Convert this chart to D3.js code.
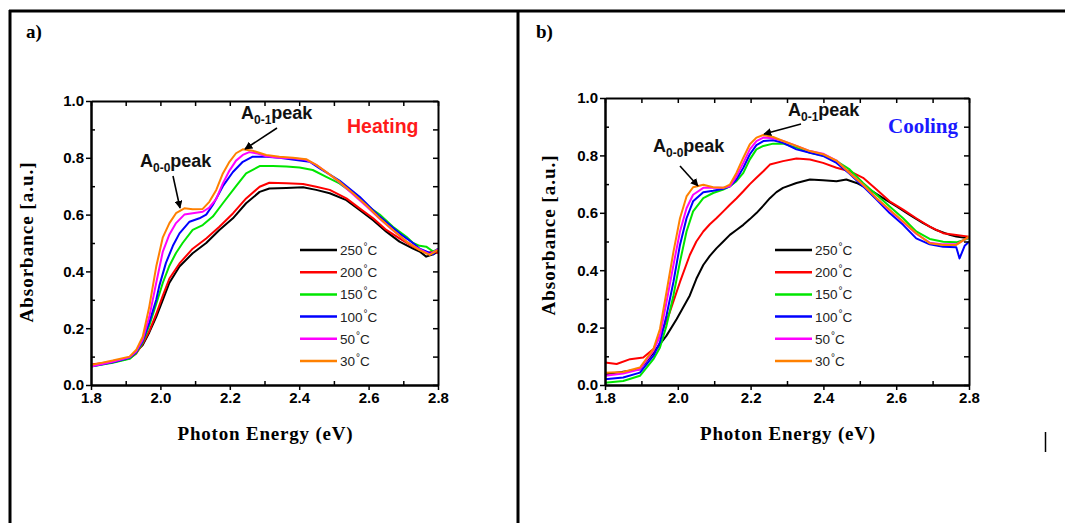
<!DOCTYPE html>
<html>
<head>
<meta charset="utf-8">
<script src="https://cdn.jsdelivr.net/npm/d3@7"></script>
<style>
  html, body { margin: 0; padding: 0; background: #fff; }
  svg { display: block; }
</style>
</head>
<body>
<svg id="chart" width="1065" height="523"></svg>
<script>
// ---------------- DATA ----------------
const energyTicks = [1.8, 2.0, 2.2, 2.4, 2.6, 2.8];
const energyMinor = [1.9, 2.1, 2.3, 2.5, 2.7];
const absTicks = [0.0, 0.2, 0.4, 0.6, 0.8, 1.0];
const absMinor = [0.1, 0.3, 0.5, 0.7, 0.9];
const seriesLabels = ["250", "200", "150", "100", "50", "30"];
const seriesColors = ["#000000", "#ff0000", "#00e600", "#0000ff", "#ff00ff", "#ff8000"];

// Panel a) Heating
const heat250 = [[1.8,0.07],[1.8625,0.08],[1.911,0.094],[1.949,0.141],[1.968,0.185],[1.988,0.24],[2.007,0.3],[2.026,0.36],[2.055,0.417],[2.093,0.464],[2.132,0.5],[2.170,0.546],[2.209,0.587],[2.247,0.64],[2.286,0.68],[2.314,0.692],[2.363,0.694],[2.411,0.696],[2.449,0.687],[2.488,0.675],[2.536,0.651],[2.574,0.616],[2.613,0.58],[2.651,0.54],[2.689,0.505],[2.728,0.48],[2.747,0.47],[2.766,0.452],[2.786,0.46],[2.8,0.47]];
const heat200 = [[1.8,0.072],[1.8625,0.082],[1.911,0.094],[1.930,0.11],[1.949,0.145],[1.968,0.19],[1.988,0.25],[2.007,0.315],[2.026,0.375],[2.055,0.428],[2.093,0.48],[2.132,0.516],[2.170,0.557],[2.209,0.604],[2.247,0.657],[2.286,0.698],[2.314,0.712],[2.363,0.71],[2.411,0.708],[2.449,0.698],[2.488,0.687],[2.536,0.657],[2.574,0.622],[2.613,0.587],[2.651,0.546],[2.689,0.516],[2.728,0.487],[2.766,0.464],[2.786,0.47],[2.8,0.465]];
const heat150 = [[1.8,0.065],[1.8625,0.078],[1.911,0.092],[1.930,0.112],[1.949,0.15],[1.968,0.21],[1.988,0.285],[2.007,0.36],[2.026,0.42],[2.045,0.465],[2.064,0.5],[2.093,0.546],[2.122,0.563],[2.151,0.593],[2.180,0.64],[2.218,0.70],[2.247,0.745],[2.286,0.771],[2.324,0.771],[2.363,0.769],[2.401,0.766],[2.439,0.757],[2.478,0.733],[2.516,0.71],[2.555,0.675],[2.593,0.634],[2.632,0.60],[2.670,0.557],[2.709,0.522],[2.728,0.50],[2.747,0.49],[2.766,0.487],[2.786,0.47],[2.8,0.478]];
const heat100 = [[1.8,0.065],[1.8625,0.08],[1.911,0.096],[1.930,0.115],[1.949,0.155],[1.968,0.22],[1.988,0.30],[1.997,0.35],[2.016,0.43],[2.036,0.49],[2.055,0.534],[2.084,0.575],[2.1125,0.587],[2.132,0.60],[2.151,0.634],[2.180,0.70],[2.209,0.75],[2.2375,0.786],[2.266,0.804],[2.305,0.804],[2.343,0.80],[2.391,0.792],[2.430,0.786],[2.459,0.763],[2.516,0.72],[2.574,0.663],[2.632,0.593],[2.689,0.534],[2.728,0.50],[2.747,0.48],[2.766,0.47],[2.786,0.46],[2.8,0.48]];
const heat50 = [[1.8,0.065],[1.8625,0.082],[1.911,0.098],[1.930,0.118],[1.949,0.16],[1.968,0.24],[1.988,0.36],[2.007,0.47],[2.026,0.53],[2.045,0.57],[2.069,0.60],[2.093,0.605],[2.122,0.61],[2.141,0.625],[2.161,0.655],[2.180,0.71],[2.199,0.755],[2.218,0.79],[2.2375,0.81],[2.256,0.82],[2.280,0.815],[2.305,0.805],[2.343,0.80],[2.382,0.798],[2.420,0.793],[2.449,0.775],[2.478,0.75],[2.516,0.714],[2.555,0.672],[2.593,0.63],[2.632,0.585],[2.670,0.545],[2.709,0.505],[2.747,0.478],[2.776,0.46],[2.8,0.478]];
const heat30 = [[1.8,0.07],[1.8625,0.086],[1.911,0.10],[1.930,0.123],[1.949,0.17],[1.968,0.276],[1.988,0.417],[2.007,0.52],[2.026,0.57],[2.045,0.605],[2.069,0.622],[2.093,0.619],[2.122,0.62],[2.141,0.645],[2.161,0.687],[2.180,0.745],[2.199,0.786],[2.218,0.816],[2.2375,0.83],[2.266,0.825],[2.305,0.81],[2.343,0.804],[2.382,0.80],[2.420,0.795],[2.449,0.775],[2.478,0.75],[2.516,0.716],[2.555,0.675],[2.593,0.634],[2.632,0.587],[2.670,0.546],[2.709,0.505],[2.747,0.475],[2.776,0.458],[2.8,0.475]];

// Panel b) Cooling
const cool250 = [[1.8,0.037],[1.896,0.055],[1.933,0.113],[1.969,0.172],[1.997,0.23],[2.033,0.312],[2.051,0.37],[2.070,0.418],[2.088,0.45],[2.106,0.476],[2.125,0.50],[2.143,0.523],[2.161,0.54],[2.180,0.558],[2.198,0.578],[2.216,0.599],[2.235,0.625],[2.253,0.651],[2.271,0.672],[2.289,0.687],[2.326,0.704],[2.363,0.716],[2.399,0.713],[2.436,0.71],[2.463,0.716],[2.491,0.704],[2.527,0.681],[2.564,0.651],[2.601,0.622],[2.637,0.593],[2.674,0.564],[2.710,0.54],[2.747,0.523],[2.765,0.517],[2.8,0.511]];
const cool200 = [[1.8,0.078],[1.832,0.073],[1.869,0.09],[1.905,0.096],[1.933,0.125],[1.956,0.184],[1.978,0.254],[2.006,0.359],[2.033,0.453],[2.051,0.50],[2.070,0.535],[2.088,0.56],[2.106,0.581],[2.125,0.605],[2.143,0.628],[2.161,0.65],[2.180,0.675],[2.198,0.70],[2.216,0.722],[2.235,0.745],[2.253,0.768],[2.289,0.78],[2.326,0.789],[2.363,0.786],[2.399,0.774],[2.436,0.757],[2.472,0.745],[2.509,0.722],[2.546,0.681],[2.582,0.64],[2.619,0.611],[2.655,0.581],[2.692,0.552],[2.729,0.529],[2.765,0.523],[2.8,0.517]];
const cool150 = [[1.8,0.008],[1.850,0.014],[1.896,0.032],[1.933,0.09],[1.951,0.131],[1.969,0.207],[1.988,0.312],[2.006,0.429],[2.024,0.535],[2.042,0.605],[2.070,0.651],[2.097,0.669],[2.125,0.681],[2.143,0.692],[2.161,0.71],[2.180,0.739],[2.198,0.786],[2.216,0.821],[2.235,0.833],[2.262,0.841],[2.289,0.841],[2.326,0.827],[2.363,0.809],[2.399,0.80],[2.436,0.78],[2.472,0.751],[2.509,0.704],[2.546,0.663],[2.582,0.622],[2.619,0.581],[2.655,0.535],[2.692,0.509],[2.729,0.499],[2.765,0.497],[2.8,0.511]];
const cool100 = [[1.8,0.02],[1.850,0.026],[1.896,0.043],[1.933,0.102],[1.951,0.149],[1.969,0.242],[1.988,0.359],[2.006,0.488],[2.024,0.581],[2.042,0.64],[2.070,0.672],[2.097,0.677],[2.125,0.684],[2.143,0.692],[2.161,0.716],[2.180,0.757],[2.198,0.804],[2.216,0.836],[2.235,0.85],[2.262,0.853],[2.289,0.844],[2.326,0.821],[2.363,0.809],[2.399,0.798],[2.436,0.774],[2.472,0.736],[2.509,0.692],[2.546,0.646],[2.582,0.599],[2.619,0.558],[2.655,0.511],[2.692,0.49],[2.729,0.482],[2.765,0.48],[2.774,0.441],[2.788,0.485],[2.8,0.499]];
const cool50 = [[1.8,0.032],[1.850,0.04],[1.896,0.055],[1.933,0.119],[1.951,0.172],[1.969,0.289],[1.988,0.418],[2.006,0.535],[2.024,0.616],[2.042,0.663],[2.070,0.687],[2.097,0.687],[2.125,0.687],[2.143,0.692],[2.161,0.727],[2.180,0.774],[2.198,0.821],[2.216,0.85],[2.235,0.862],[2.262,0.86],[2.289,0.85],[2.326,0.833],[2.363,0.815],[2.399,0.806],[2.436,0.782],[2.472,0.739],[2.509,0.698],[2.546,0.651],[2.582,0.608],[2.619,0.568],[2.655,0.527],[2.692,0.496],[2.729,0.49],[2.765,0.49],[2.8,0.515]];
const cool30 = [[1.8,0.043],[1.850,0.045],[1.896,0.061],[1.933,0.125],[1.951,0.195],[1.969,0.324],[1.988,0.464],[2.006,0.581],[2.024,0.657],[2.042,0.689],[2.070,0.698],[2.097,0.689],[2.125,0.687],[2.143,0.698],[2.161,0.739],[2.180,0.792],[2.198,0.839],[2.216,0.862],[2.235,0.871],[2.262,0.864],[2.289,0.85],[2.326,0.833],[2.363,0.815],[2.399,0.804],[2.436,0.782],[2.472,0.739],[2.509,0.698],[2.546,0.651],[2.582,0.611],[2.619,0.57],[2.655,0.529],[2.692,0.494],[2.729,0.488],[2.765,0.488],[2.8,0.517]];

const heatingSeries = [heat250, heat200, heat150, heat100, heat50, heat30];
const coolingSeries = [cool250, cool200, cool150, cool100, cool50, cool30];

// ---------------- DRAW ----------------
const svg = d3.select("#chart");
const ARIAL = "'Liberation Sans', Arial, sans-serif";
const TIMES = "'Liberation Serif', 'Times New Roman', serif";

const defs = svg.append("defs");
defs.append("marker")
  .attr("id", "arrowhead")
  .attr("viewBox", "0 0 10 10")
  .attr("refX", 9).attr("refY", 5)
  .attr("markerWidth", 8).attr("markerHeight", 8)
  .attr("markerUnits", "userSpaceOnUse")
  .attr("orient", "auto")
  .append("path").attr("d", "M0,0 L10,5 L0,10 z").attr("fill", "#000");

// outer frame
const frame = svg.append("g").attr("stroke", "#000").attr("stroke-width", 3);
frame.append("line").attr("x1", 9).attr("x2", 1065).attr("y1", 11).attr("y2", 11);
frame.append("line").attr("x1", 10).attr("x2", 10).attr("y1", 10).attr("y2", 523);
frame.append("line").attr("x1", 518).attr("x2", 518).attr("y1", 10).attr("y2", 523);
svg.append("line").attr("x1", 1045.5).attr("x2", 1045.5).attr("y1", 432).attr("y2", 452)
  .attr("stroke", "#000").attr("stroke-width", 1.5);

function drawPanel(cfg) {
  const x = d3.scaleLinear().domain([1.8, 2.8]).range([cfg.left, cfg.right]);
  const y = d3.scaleLinear().domain([0, 1]).range([cfg.bottom, cfg.top]);
  const g = svg.append("g");

  // panel letter
  g.append("text").attr("x", cfg.letterX).attr("y", 38)
    .attr("font-family", TIMES).attr("font-weight", "bold").attr("font-size", 19)
    .text(cfg.letter);

  // curves
  const line = d3.line().x(d => x(d[0])).y(d => y(d[1]));
  const curves = g.append("g");
  cfg.series.forEach((s, i) => {
    curves.append("path").datum(s)
      .attr("fill", "none").attr("stroke", seriesColors[i])
      .attr("stroke-width", 2).attr("stroke-linejoin", "round")
      .attr("d", line);
  });

  // axes
  const fmt = d3.format(".1f");
  const styleAxis = sel => {
    sel.attr("font-size", null).attr("font-family", null);
    sel.select(".domain").attr("stroke", "#000").attr("stroke-width", 2);
    sel.selectAll(".tick line").attr("stroke", "#000").attr("stroke-width", 1.5);
    sel.selectAll("text").style("font-family", ARIAL).style("font-weight", "bold")
      .style("font-size", "15px").attr("fill", "#000");
  };
  g.append("g").attr("transform", `translate(0,${cfg.bottom})`)
    .call(d3.axisBottom(x).tickValues(energyTicks).tickFormat(fmt).tickSize(5).tickSizeOuter(0).tickPadding(2))
    .call(styleAxis);
  g.append("g").attr("transform", `translate(0,${cfg.bottom})`)
    .call(d3.axisBottom(x).tickValues(energyMinor).tickFormat("").tickSize(-4).tickSizeOuter(0))
    .call(styleAxis);
  g.append("g").attr("transform", `translate(0,${cfg.top})`)
    .call(d3.axisTop(x).tickValues(energyTicks.concat(energyMinor)).tickFormat("").tickSize(-5).tickSizeOuter(0))
    .call(styleAxis);
  g.append("g").attr("transform", `translate(${cfg.left},0)`)
    .call(d3.axisLeft(y).tickValues(absTicks).tickFormat(fmt).tickSize(5).tickSizeOuter(0).tickPadding(2))
    .call(styleAxis);
  g.append("g").attr("transform", `translate(${cfg.left},0)`)
    .call(d3.axisLeft(y).tickValues(absMinor).tickFormat("").tickSize(-4).tickSizeOuter(0))
    .call(styleAxis);
  g.append("g").attr("transform", `translate(${cfg.right},0)`)
    .call(d3.axisRight(y).tickValues(absTicks.concat(absMinor)).tickFormat("").tickSize(-5).tickSizeOuter(0))
    .call(styleAxis);

  // axis titles
  g.append("text").attr("x", (cfg.left + cfg.right) / 2 + 1).attr("y", cfg.bottom + 55)
    .attr("text-anchor", "middle").attr("font-family", TIMES).attr("font-weight", "bold")
    .attr("font-size", 19).attr("letter-spacing", 0.8).text("Photon Energy (eV)");
  g.append("text")
    .attr("transform", `translate(${cfg.yTitleX},${cfg.yTitleY}) rotate(-90)`)
    .attr("text-anchor", "middle").attr("font-family", TIMES).attr("font-weight", "bold")
    .attr("font-size", 19).attr("letter-spacing", 1).text("Absorbance [a.u.]");

  // mode label
  g.append("text").attr("x", cfg.modeX).attr("y", cfg.modeY)
    .attr("font-family", cfg.modeFont).attr("font-weight", "bold").attr("font-size", cfg.modeSize)
    .attr("fill", cfg.modeColor).text(cfg.mode);

  // peak annotations
  cfg.peaks.forEach(p => {
    const t = g.append("text").attr("x", p.tx).attr("y", p.ty)
      .attr("font-family", ARIAL).attr("font-weight", "bold").attr("font-size", 18).attr("fill", "#111");
    t.append("tspan").text("A");
    t.append("tspan").attr("font-size", 12).attr("dy", 5).text(p.sub);
    t.append("tspan").attr("dy", -5).text("peak");
    g.append("line").attr("x1", p.ax1).attr("y1", p.ay1).attr("x2", p.ax2).attr("y2", p.ay2)
      .attr("stroke", "#000").attr("stroke-width", 1.6).attr("marker-end", "url(#arrowhead)");
  });

  // legend
  const lg = g.append("g");
  seriesLabels.forEach((lab, i) => {
    const yy = cfg.legY + i * 22.2;
    lg.append("line").attr("x1", cfg.legX).attr("x2", cfg.legX + 37).attr("y1", yy).attr("y2", yy)
      .attr("stroke", seriesColors[i]).attr("stroke-width", 2.5);
    const t = lg.append("text").attr("x", cfg.legX + 40).attr("y", yy + 5)
      .attr("font-family", ARIAL).attr("font-size", 13.5).attr("fill", "#222");
    t.append("tspan").text(lab);
    t.append("tspan").attr("font-size", 10).attr("dy", -5).attr("dx", 1).text("°");
    t.append("tspan").attr("dy", 5).text("C");
  });
}

drawPanel({
  letter: "a)", letterX: 26,
  left: 91, right: 438, top: 101, bottom: 385,
  series: heatingSeries,
  yTitleX: 33, yTitleY: 242,
  mode: "Heating", modeX: 347, modeY: 133, modeFont: ARIAL, modeSize: 19.5, modeColor: "#ff1a1a",
  peaks: [
    { tx: 241, ty: 119, sub: "0-1", ax1: 277, ay1: 128, ax2: 245, ay2: 149 },
    { tx: 140, ty: 167, sub: "0-0", ax1: 173, ay1: 176, ax2: 180, ay2: 208 }
  ],
  legX: 300, legY: 250
});

drawPanel({
  letter: "b)", letterX: 536,
  left: 605, right: 969, top: 98, bottom: 385,
  series: coolingSeries,
  yTitleX: 555, yTitleY: 235,
  mode: "Cooling", modeX: 888, modeY: 133, modeFont: TIMES, modeSize: 21, modeColor: "#1a1aff",
  peaks: [
    { tx: 788, ty: 116, sub: "0-1", ax1: 801, ay1: 124, ax2: 764, ay2: 134 },
    { tx: 653, ty: 152, sub: "0-0", ax1: 680, ay1: 166, ax2: 698, ay2: 186 }
  ],
  legX: 775, legY: 250
});
</script>
</body>
</html>
